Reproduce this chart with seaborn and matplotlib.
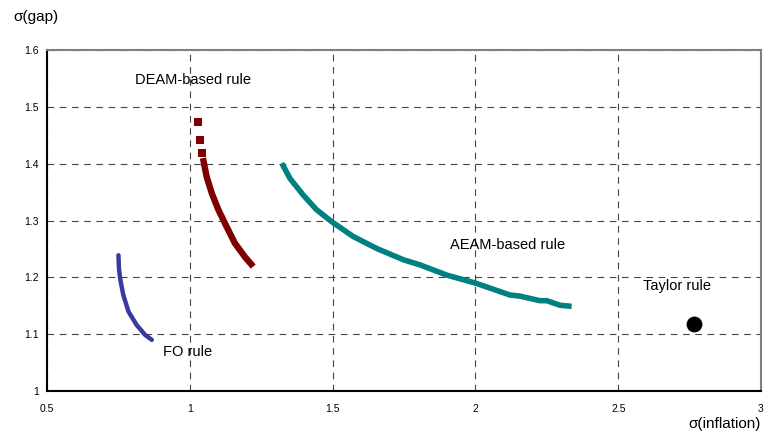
import matplotlib
matplotlib.use("Agg")
import matplotlib.pyplot as plt
import seaborn as sns

sns.set_style("white")
plt.rcParams['font.family'] = ['Liberation Sans', 'DejaVu Sans']
plt.rcParams['text.color'] = 'black'
plt.rcParams['xtick.color'] = 'black'
plt.rcParams['ytick.color'] = 'black'

# FO rule
fo_x = [0.750, 0.752, 0.756, 0.767, 0.785, 0.814, 0.843, 0.867]
fo_y = [1.239, 1.215, 1.198, 1.169, 1.140, 1.116, 1.099, 1.090]
# DEAM-based rule (sparse top points, then continuous)
deam_top_x = [1.030, 1.036, 1.041]
deam_top_y = [1.473, 1.442, 1.419]
deam_x = [1.046, 1.059, 1.077, 1.100, 1.129, 1.158, 1.193, 1.222]
deam_y = [1.410, 1.377, 1.348, 1.319, 1.289, 1.260, 1.236, 1.219]
# AEAM-based rule
aeam_x = [1.322, 1.351, 1.397, 1.444, 1.497, 1.572, 1.654, 1.748, 1.806, 1.900,
          2.000, 2.121, 2.156, 2.226, 2.250, 2.296, 2.337]
aeam_y = [1.401, 1.374, 1.345, 1.319, 1.298, 1.272, 1.251, 1.231, 1.222, 1.204,
          1.190, 1.169, 1.167, 1.159, 1.159, 1.151, 1.149]
# Taylor rule
taylor_x = [2.767]
taylor_y = [1.118]

x_ticks = [0.5, 1, 1.5, 2, 2.5, 3]
x_tick_labels = ["0.5", "1", "1.5", "2", "2.5", "3"]
y_ticks = [1, 1.1, 1.2, 1.3, 1.4, 1.5, 1.6]
y_tick_labels = ["1", "1.1", "1.2", "1.3", "1.4", "1.5", "1.6"]

fig = plt.figure(figsize=(7.71, 4.32), dpi=100)
ax = fig.add_axes([0.061, 0.0949, 0.926, 0.789])

sns.lineplot(x=fo_x, y=fo_y, sort=False, ax=ax, color="#3a3a9e", linewidth=3.2,
             solid_capstyle="round", solid_joinstyle="round")
sns.lineplot(x=deam_x, y=deam_y, sort=False, ax=ax, color="#7f0000", linewidth=4.6,
             solid_capstyle="butt", solid_joinstyle="round")
sns.scatterplot(x=deam_top_x, y=deam_top_y, ax=ax, color="#7f0000", marker="s", s=40,
                linewidth=0)
sns.lineplot(x=aeam_x, y=aeam_y, sort=False, ax=ax, color="#008080", linewidth=4.0,
             solid_capstyle="butt", solid_joinstyle="round")
sns.scatterplot(x=taylor_x, y=taylor_y, ax=ax, color="black", s=130, linewidth=0, zorder=5)

ax.set_xlim(0.5, 3)
ax.set_ylim(1, 1.6)
ax.set_xticks(x_ticks)
ax.set_xticklabels(x_tick_labels)
ax.set_yticks(y_ticks)
ax.set_yticklabels(y_tick_labels)
ax.tick_params(axis='both', labelsize=7.5, direction='inout', length=6, width=1,
               color='black')
ax.tick_params(axis='x', pad=6)
ax.tick_params(axis='y', pad=3)
ax.grid(True, color='#444444', linestyle=(0, (6, 5)), linewidth=0.8)
ax.set_axisbelow(True)

for s in ['left', 'bottom']:
    ax.spines[s].set_color('black')
    ax.spines[s].set_linewidth(1.5)
for s in ['top', 'right']:
    ax.spines[s].set_color('#808080')
    ax.spines[s].set_linewidth(1.5)

ax.text(0.808, 1.548, "DEAM-based rule", fontsize=10.5, va='center', ha='left')
ax.text(1.911, 1.257, "AEAM-based rule", fontsize=10.5, va='center', ha='left')
ax.text(2.586, 1.184, "Taylor rule", fontsize=10.5, va='center', ha='left')
ax.text(0.906, 1.069, "FO rule", fontsize=10.5, va='center', ha='left')

fig.text(13 / 771, 1 - 17 / 432, "σ(gap)", fontsize=11, ha='left', va='center')
fig.text(761 / 771, 1 - 424 / 432, "σ(inflation)", fontsize=11, ha='right', va='center')

fig.savefig("out.png", dpi=100)
